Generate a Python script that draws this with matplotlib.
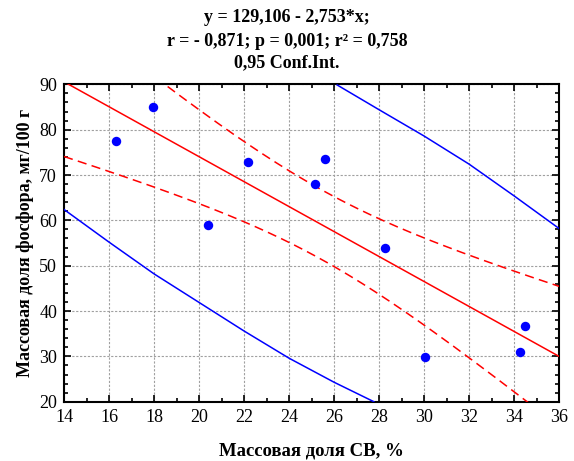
import numpy as np
import matplotlib
matplotlib.use("Agg")
import matplotlib.pyplot as plt
from matplotlib.ticker import MultipleLocator

# данные
sv      = [16.30, 17.94, 22.18, 20.40, 25.59, 25.15, 28.28, 30.06, 34.47, 34.25]
phosph  = [77.4, 85.1, 72.96, 59.0, 73.6, 68.1, 53.8, 29.8, 36.8, 30.96]
intercept, slope = 129.106, -2.753
t_crit  = 2.306   # t(0.975, df=8)

# синие границы
pred_up_x = [26.14, 28, 30, 32, 34, 36]
pred_up_y = [89.85, 84.4, 78.6, 72.4, 65.4, 58.2]
pred_lo_x = [14, 16, 18, 20, 22, 24, 26, 27.77]
pred_lo_y = [62.4, 55.2, 48.2, 41.9, 35.6, 29.6, 24.3, 20.0]

title_lines = ["y = 129,106 - 2,753*x;",
               "r = - 0,871; p = 0,001; r² = 0,758",
               "0,95 Conf.Int."]

plt.rcParams["font.family"] = ["Liberation Serif", "DejaVu Serif"]

x = np.array(sv); y = np.array(phosph)
n = len(x)
resid = y - (intercept + slope * x)
s = np.sqrt((resid ** 2).sum() / (n - 2))
sxx = ((x - x.mean()) ** 2).sum()

xx = np.linspace(14, 36, 300)
yy = intercept + slope * xx
ci = t_crit * s * np.sqrt(1 / n + (xx - x.mean()) ** 2 / sxx)

fig = plt.figure(figsize=(5.74, 4.61), dpi=100)
ax = fig.add_axes([0.1115, 0.1286, 0.8625, 0.6885])

red, blue = "#ff0000", "#0000ff"
ax.plot(xx, yy, color=red, lw=1.1, zorder=3)
dash = (0, (6, 3.5))
ax.plot(xx, yy + ci, color=red, lw=1.1, ls=dash, zorder=3)
ax.plot(xx, yy - ci, color=red, lw=1.1, ls=dash, zorder=3)
ax.plot(pred_up_x, pred_up_y, color=blue, lw=1.1, zorder=3)
ax.plot(pred_lo_x, pred_lo_y, color=blue, lw=1.1, zorder=3)
ax.plot(x, y, "o", color=blue, ms=6.8, mec="none", zorder=4)

ax.set_xlim(14, 36); ax.set_ylim(20, 90)
ax.xaxis.set_major_locator(MultipleLocator(2))
ax.xaxis.set_minor_locator(MultipleLocator(1))
ax.yaxis.set_major_locator(MultipleLocator(10))
ax.yaxis.set_minor_locator(MultipleLocator(2))
ax.tick_params(which="both", direction="in", top=True, right=True,
               width=1.2, labelsize=13, color="black")
ax.tick_params(which="major", length=5, pad=5)
ax.tick_params(which="minor", length=3)
ax.grid(True, which="major", ls=(0, (2, 1.5)), color="#a0a0a0", lw=0.8)
for sp in ax.spines.values():
    sp.set_linewidth(1.5)

ax.set_xlabel("Массовая доля СВ, %", fontsize=13.5, fontweight="bold", labelpad=12)
ax.set_ylabel("Массовая доля фосфора, мг/100 г", fontsize=13, fontweight="bold", labelpad=4)

fig.text(0.5, 0.963, title_lines[0], ha="center", va="center", fontsize=13, fontweight="bold")
fig.text(0.5, 0.911, title_lines[1], ha="center", va="center", fontsize=13, fontweight="bold")
fig.text(0.5, 0.865, title_lines[2], ha="center", va="center", fontsize=13, fontweight="bold")

fig.savefig("out.png", dpi=100, facecolor="white")
